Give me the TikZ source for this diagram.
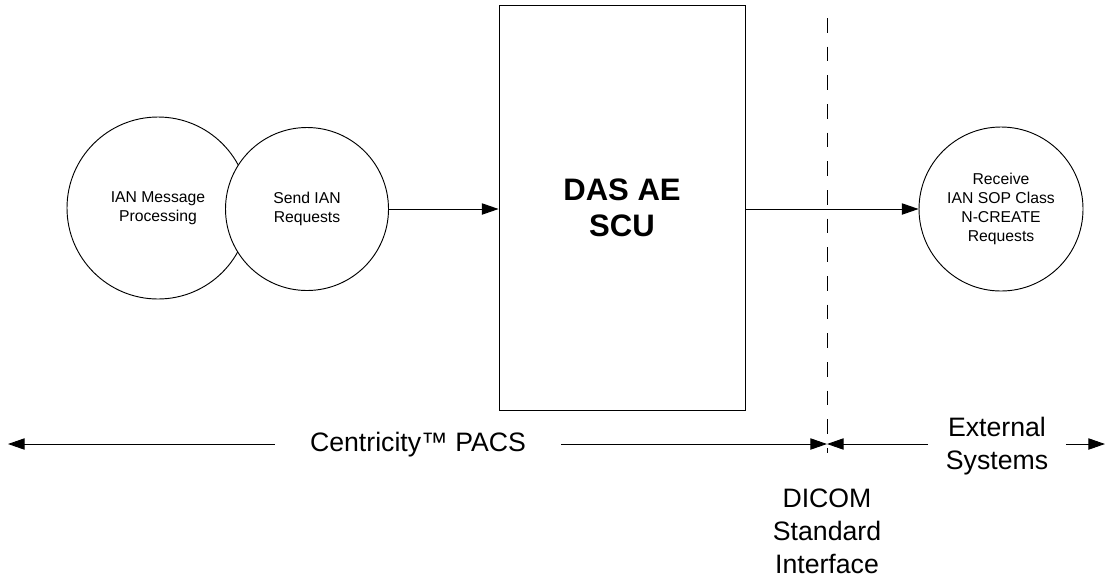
\documentclass[tikz,border=0pt]{standalone}
\usepackage{fontspec}
\setmainfont{Liberation Sans}
\usetikzlibrary{arrows.meta}

\begin{document}
\begin{tikzpicture}[x=0.75pt, y=-0.75pt, line width=0.7pt,
    >={Triangle[length=12.5pt,width=8.5pt]},
    process/.style={shape=circle, draw=black, fill=white, inner sep=0pt, align=center,
        font=\fontsize{11.8pt}{14.25pt}\selectfont},
    bigtext/.style={align=center, font=\fontsize{20pt}{24.75pt}\selectfont}]
    % Define frame of the picture
    \useasboundingbox (0,0) rectangle (1105,579);

    % Define coordinates for interface line and outer arrow ends
    \coordinate (itop) at (827,18);
    \coordinate (ibot) at (827,453);
    \coordinate (iface) at (827,444);
    \coordinate (leftend) at (8,444);
    \coordinate (rightend) at (1105,444);

    % Draw nodes
    \node[process, minimum size=136.5pt] (msgproc) at (158,208) {IAN Message\\Processing};
    \node[process, minimum size=122.25pt] (send) at (307,209) {Send IAN\\Requests};
    \node[draw=black, minimum width=184.5pt, minimum height=303.75pt, align=center,
        font=\bfseries\fontsize{23.3pt}{27pt}\selectfont] (scu) at (622,207.5) {DAS AE\\SCU};
    \node[process, minimum size=123pt] (receive) at (1001,209) {Receive\\IAN SOP Class\\N-CREATE\\Requests};

    % Draw edges
    \draw[->] (send) -- (send -| scu.west);
    \draw[->] (scu.east |- receive) -- (receive);

    % Draw interface line
    \draw[dash pattern=on 11pt off 10.5pt] (itop) -- (ibot);

    % Draw labels and span arrows
    \node[bigtext, inner xsep=26pt] (pacs) at (418,445) {Centricity™ PACS};
    \node[bigtext, inner xsep=13pt] (extsys) at (997,446) {External\\Systems};
    \node[bigtext] (dicom) at (827,531) {DICOM\\Standard\\Interface};
    \draw[->] (pacs.west |- iface) -- (leftend);
    \draw[->] (pacs.east |- iface) -- (iface);
    \draw[->] (extsys.west |- iface) -- (iface);
    \draw[->] (extsys.east |- iface) -- (rightend);
\end{tikzpicture}
\end{document}
